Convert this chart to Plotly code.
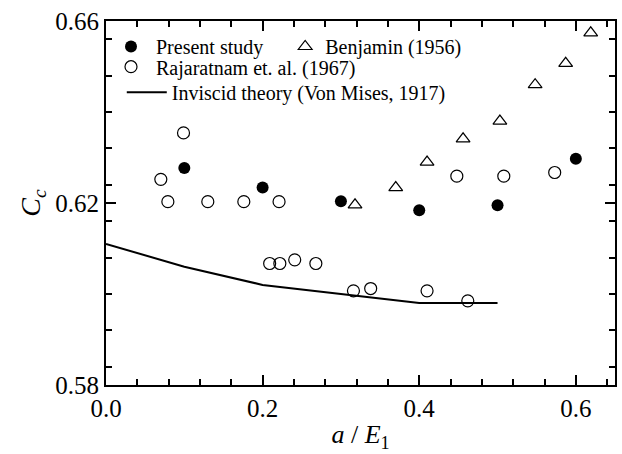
import plotly.graph_objects as go

# Present study (filled circles)
present_x = [0.10, 0.20, 0.30, 0.40, 0.50, 0.60]
present_y = [0.6277, 0.6234, 0.6204, 0.6184, 0.6195, 0.6297]

# Benjamin (1956) (open triangles)
benj_x = [0.318, 0.370, 0.410, 0.456, 0.503, 0.548, 0.587, 0.619]
benj_y = [0.6196, 0.6234, 0.6290, 0.6341, 0.6380, 0.6460, 0.6507, 0.6574]

# Rajaratnam et. al. (1967) (open circles)
raj_x = [0.070, 0.079, 0.099, 0.130, 0.176, 0.221, 0.209, 0.222, 0.241, 0.268,
         0.316, 0.338, 0.410, 0.448, 0.462, 0.508, 0.573]
raj_y = [0.6252, 0.6203, 0.6354, 0.6203, 0.6203, 0.6203, 0.6067, 0.6067, 0.6075, 0.6067,
         0.6007, 0.6012, 0.6007, 0.6259, 0.5985, 0.6259, 0.6267]

# Inviscid theory (Von Mises, 1917)
theory_x = [0.0, 0.1, 0.2, 0.3, 0.4, 0.5]
theory_y = [0.611, 0.606, 0.602, 0.600, 0.598, 0.598]

FONT = "Liberation Serif"

fig = go.Figure()
fig.add_trace(go.Scatter(x=present_x, y=present_y, mode="markers", name="Present study",
                         marker=dict(symbol="circle", size=12, color="black"),
                         legend="legend", showlegend=True))
fig.add_trace(go.Scatter(x=raj_x, y=raj_y, mode="markers", name="Rajaratnam et. al. (1967)",
                         marker=dict(symbol="circle-open", size=12, color="black",
                                     line=dict(width=1.2, color="black")),
                         legend="legend4", showlegend=True))
fig.add_trace(go.Scatter(x=benj_x, y=benj_y, mode="markers", name="Benjamin (1956)",
                         marker=dict(symbol="triangle-up-open", size=12, color="black",
                                     line=dict(width=1.2, color="black")),
                         legend="legend2", showlegend=True))
fig.add_trace(go.Scatter(x=theory_x, y=theory_y, mode="lines", name="Inviscid theory (Von Mises, 1917)",
                         line=dict(color="black", width=2),
                         legend="legend3", showlegend=True))

axis_common = dict(
    showline=True, linecolor="black", linewidth=2, mirror="ticks",
    ticks="inside", ticklen=10, tickwidth=1.5, tickcolor="black",
    showgrid=False, zeroline=False,
    tickfont=dict(family=FONT, size=25, color="black"),
)

leg_common = dict(xanchor="left", yanchor="top", bgcolor="rgba(0,0,0,0)",
                  font=dict(family=FONT, size=20))

fig.update_layout(
    width=622, height=454,
    showlegend=True,
    margin=dict(l=106, r=5, t=21, b=69),
    plot_bgcolor="white", paper_bgcolor="white",
    font=dict(family=FONT, color="black"),
    xaxis=dict(range=[0, 0.65], dtick=0.2, tick0=0, tickformat=".1f",
               minor=dict(dtick=0.04, ticks="inside", ticklen=6, tickwidth=1.5, tickcolor="black"),
               title=dict(text="<i>a</i> / <i>E</i><sub>1</sub>", font=dict(family=FONT, size=26), standoff=4),
               **axis_common),
    yaxis=dict(range=[0.58, 0.66], dtick=0.04, tick0=0.58, tickformat=".2f",
               minor=dict(dtick=0.008, ticks="inside", ticklen=6, tickwidth=1.5, tickcolor="black"),
               title=dict(text="<i>C</i><sub><i>c</i></sub>", font=dict(family=FONT, size=28), standoff=6),
               **axis_common),
    legend=dict(x=0.0, y=0.9835, itemwidth=40, **leg_common),
    legend4=dict(x=0.0, y=0.928, itemwidth=40, **leg_common),
    legend2=dict(x=0.352, y=0.9835, **leg_common),
    legend3=dict(x=0.031, y=0.8575, itemwidth=40, **leg_common),
)

fig.write_html("out.html")
